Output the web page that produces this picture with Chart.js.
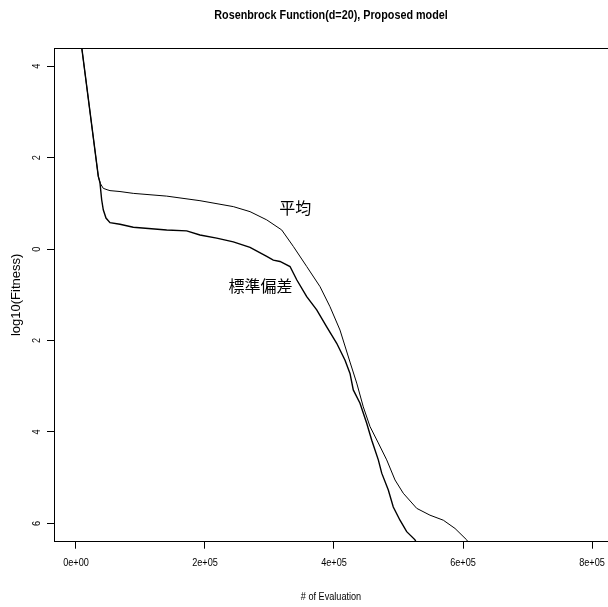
<!DOCTYPE html>
<html>
<head>
<meta charset="utf-8">
<script src="https://cdn.jsdelivr.net/npm/chart.js@4/dist/chart.umd.min.js"></script>
<style>
html, body { margin: 0; padding: 0; background: #fff; }
#wrap { width: 608px; height: 607px; }
</style>
</head>
<body>
<div id="wrap"><canvas id="myChart" width="608" height="607"></canvas></div>
<script>
//----------------------------Data
var meanX = [0, 8800, 34600, 38000, 42300, 48100, 52700, 68200, 88800, 140600, 192200, 243900, 269800, 295700, 318900, 336900, 357700, 378300, 393800, 409300, 424800, 435200, 445400, 455800, 468700, 481700, 494600, 507400, 528200, 548800, 569500, 587600, 605700, 618600];
var meanY = [5.40, 4.42, 1.59, 1.43, 1.33, 1.30, 1.28, 1.26, 1.22, 1.16, 1.06, 0.93, 0.82, 0.64, 0.42, 0.06, -0.38, -0.82, -1.26, -1.77, -2.47, -2.93, -3.45, -3.88, -4.24, -4.61, -5.05, -5.34, -5.67, -5.82, -5.93, -6.11, -6.36, -6.63];

var sdX = [0, 8800, 34600, 37200, 39800, 42300, 46500, 52700, 68200, 88800, 140600, 171600, 192200, 218100, 243900, 269800, 295700, 305900, 316300, 331800, 342200, 357700, 373200, 388700, 404200, 417100, 424800, 429900, 440300, 450700, 458500, 468700, 474000, 484200, 491900, 502300, 512700, 525600, 533300];
var sdY = [5.40, 4.42, 1.59, 1.45, 1.08, 0.86, 0.68, 0.58, 0.545, 0.48, 0.42, 0.40, 0.31, 0.24, 0.16, 0.04, -0.16, -0.24, -0.27, -0.38, -0.67, -1.04, -1.33, -1.70, -2.06, -2.43, -2.72, -3.08, -3.37, -3.81, -4.18, -4.61, -4.90, -5.27, -5.64, -5.93, -6.18, -6.36, -6.58];

var xTicks = [0, 200000, 400000, 600000, 800000];
var xTickLabels = ["0e+00", "2e+05", "4e+05", "6e+05", "8e+05"];
var yTicks = [4, 2, 0, -2, -4, -6];
var yTickLabels = ["4", "2", "0", "2", "4", "6"];

var curveNames = ["平均", "標準偏差"];
var nameAtX = [340000, 286000];
var nameAtY = [0.91, -0.81];

var chartTitle = "Rosenbrock Function(d=20), Proposed model";
var xTitle = "# of Evaluation";
var yTitle = "log10(Fitness)";

var plainFont = "'Liberation Sans', Arial, sans-serif";

function toPoints(xs, ys) {
    return xs.map(function (x, i) { return { x: x, y: ys[i] }; });
}

// no narrow font installed, so squeeze Liberation Sans a bit
function narrowText(ctx, text, x, y, font, turned) {
    ctx.save();
    ctx.translate(x, y);
    if (turned) ctx.rotate(-Math.PI / 2);
    ctx.scale(0.83, 1);
    ctx.font = font;
    ctx.fillStyle = "#000";
    ctx.textAlign = "center";
    ctx.textBaseline = "middle";
    ctx.fillText(text, 0, 0);
    ctx.restore();
}

//----------------------------Plugins
var boxTop = {
    id: "boxTop",
    afterDraw: function (chart) {
        var ctx = chart.ctx, a = chart.chartArea;
        ctx.save();
        ctx.strokeStyle = "#000";
        ctx.lineWidth = 1;
        ctx.beginPath();
        ctx.moveTo(a.left, Math.round(a.top) + 0.5);
        ctx.lineTo(a.right, Math.round(a.top) + 0.5);
        ctx.stroke();
        ctx.restore();
    }
};

var axisTexts = {
    id: "axisTexts",
    afterDraw: function (chart) {
        var ctx = chart.ctx, a = chart.chartArea;
        var xs = chart.scales.x, ys = chart.scales.y;
        var mid = (a.left + a.right) / 2;
        narrowText(ctx, chartTitle, mid, 15, "bold 13px " + plainFont, false);
        xTicks.forEach(function (v, i) {
            narrowText(ctx, xTickLabels[i], xs.getPixelForValue(v), a.bottom + 21, "11px " + plainFont, false);
        });
        narrowText(ctx, xTitle, mid, 597, "11px " + plainFont, false);
        yTicks.forEach(function (v, i) {
            narrowText(ctx, yTickLabels[i], 37, ys.getPixelForValue(v), "11px " + plainFont, true);
        });
    }
};

var curveLabels = {
    id: "curveLabels",
    afterDraw: function (chart) {
        var ctx = chart.ctx;
        ctx.save();
        ctx.fillStyle = "#000";
        ctx.font = "16px 'Noto Sans CJK JP', sans-serif";
        ctx.textAlign = "center";
        ctx.textBaseline = "middle";
        curveNames.forEach(function (name, i) {
            ctx.fillText(name, chart.scales.x.getPixelForValue(nameAtX[i]), chart.scales.y.getPixelForValue(nameAtY[i]));
        });
        ctx.restore();
    }
};

//----------------------------Chart
var ctx = document.getElementById("myChart").getContext("2d");
var chart = new Chart(ctx, {
    type: "scatter",
    data: {
        datasets: [{
            label: curveNames[0],
            data: toPoints(meanX, meanY),
            showLine: true,
            borderColor: "#000",
            borderWidth: 1,
            pointRadius: 0,
            tension: 0,
            clip: 0
        }, {
            label: curveNames[1],
            data: toPoints(sdX, sdY),
            showLine: true,
            borderColor: "#000",
            borderWidth: 1.4,
            pointRadius: 0,
            tension: 0,
            clip: 0
        }]
    },
    options: {
        responsive: false,
        animation: false,
        layout: { padding: { top: 48, right: 0, bottom: 0, left: 0 } },
        plugins: {
            legend: { display: false },
            tooltip: { enabled: false },
            title: { display: false }
        },
        scales: {
            x: {
                type: "linear",
                min: -34100,
                max: 824800,
                afterBuildTicks: function (scale) {
                    scale.ticks = xTicks.map(function (v) { return { value: v }; });
                },
                afterFit: function (scale) { scale.height = 65.3; },
                grid: { display: true, drawOnChartArea: false, drawTicks: true, tickLength: 7, color: "#000" },
                border: { display: true, color: "#000", width: 1 },
                ticks: { display: false },
                title: { display: false }
            },
            y: {
                type: "linear",
                min: -6.4,
                max: 4.4,
                afterBuildTicks: function (scale) {
                    scale.ticks = yTicks.map(function (v) { return { value: v }; });
                },
                afterFit: function (scale) { scale.width = 54; },
                grid: { display: true, drawOnChartArea: false, drawTicks: true, tickLength: 7, color: "#000" },
                border: { display: true, color: "#000", width: 1 },
                ticks: { display: false },
                title: {
                    display: true,
                    text: yTitle,
                    color: "#000",
                    font: { family: plainFont, size: 13 },
                    padding: { top: 9, bottom: 0 }
                }
            }
        }
    },
    plugins: [boxTop, axisTexts, curveLabels]
});
</script>
</body>
</html>
